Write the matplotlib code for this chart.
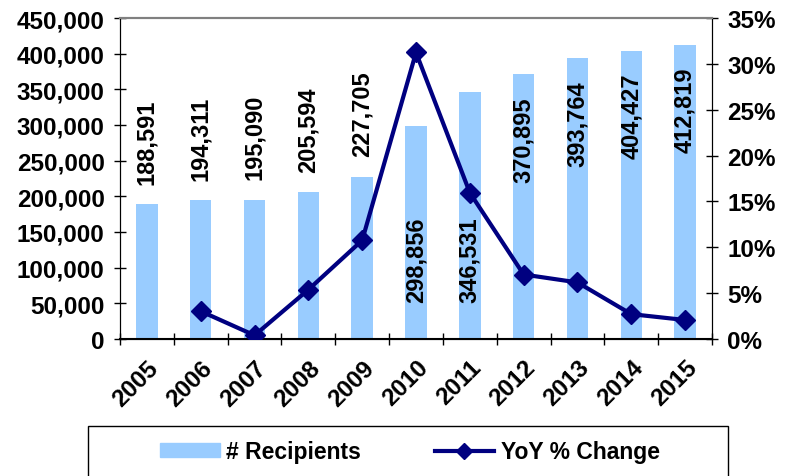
import matplotlib
matplotlib.use("Agg")
import matplotlib.pyplot as plt
from matplotlib.patches import Rectangle
from matplotlib.lines import Line2D
import matplotlib.ticker as mticker
import numpy as np

years = ["2005", "2006", "2007", "2008", "2009", "2010",
         "2011", "2012", "2013", "2014", "2015"]
recipients = [188591, 194311, 195090, 205594, 227705, 298856,
              346531, 370895, 393764, 404427, 412819]
yoy_years = ["2006", "2007", "2008", "2009", "2010",
             "2011", "2012", "2013", "2014", "2015"]
yoy_pct = [3.03, 0.40, 5.38, 10.76, 31.24, 15.95, 7.03, 6.17, 2.71, 2.07]

BAR = "#99CCFF"
NAVY = "#000080"

plt.rcParams.update({
    "font.family": ["Liberation Sans", "DejaVu Sans"],
    "font.weight": "bold",
    "font.size": 17.5,
})

fig = plt.figure(figsize=(7.96, 4.77), dpi=100)
ax = fig.add_axes([120/796, 1-340/477, 592/796, 321/477])
ax2 = ax.twinx()

x = np.arange(len(years))
bars = ax.bar(x, recipients, 0.4, color=BAR, label="# Recipients", zorder=2)

# value labels: above short bars, low inside 2010/2011, near top inside the rest
for xi, v in zip(x, recipients):
    txt = f"{v:,}"
    if v < 250000:
        ax.annotate(txt, (xi, v), xytext=(0, 15), textcoords="offset points",
                    rotation=90, ha="center", va="bottom", fontsize=17, zorder=5)
    elif v < 350000:
        ax.text(xi, 52000, txt, rotation=90, ha="center", va="bottom",
                fontsize=17, zorder=5)
    else:
        ax.annotate(txt, (xi, v), xytext=(0, -16), textcoords="offset points",
                    rotation=90, ha="center", va="top", fontsize=17, zorder=5)

xl = [years.index(y) for y in yoy_years]
ax2.plot(xl, yoy_pct, "-D", color=NAVY, lw=3, ms=10, zorder=4)

ax.set_xlim(-0.5, len(years) - 0.5)
ax.set_ylim(0, 450000)
ax.set_yticks(np.arange(0, 450001, 50000))
ax.yaxis.set_major_formatter(mticker.FuncFormatter(lambda v, p: f"{int(v):,}"))
ax2.set_ylim(0, 35)
ax2.set_yticks(np.arange(0, 36, 5))
ax2.yaxis.set_major_formatter(mticker.FuncFormatter(lambda v, p: f"{int(v)}%"))

ax.set_xticks(x)
ax.set_xticklabels(years, rotation=45, ha="right", va="top", rotation_mode="anchor")
ax.set_xticks(np.arange(-0.5, len(years)), minor=True)
ax.tick_params(axis="x", which="major", length=0, pad=12)
ax.tick_params(axis="x", which="minor", direction="inout", length=8, width=1)
ax.tick_params(axis="y", direction="inout", length=8, width=1, pad=7)
ax2.tick_params(axis="y", direction="inout", length=8, width=1, pad=7)

for a in (ax, ax2):
    a.spines["top"].set_color("#808080")
    a.spines["top"].set_linewidth(1.5)
ax.spines["bottom"].set_linewidth(1.5)

# legend box runs past the bottom edge
fig.patches.append(Rectangle((88/796, -0.2), 640/796, 0.2 + 50/477,
                             transform=fig.transFigure, fill=False,
                             ec="black", lw=1))
handles = [Rectangle((0, 0), 1, 1, color=BAR),
           Line2D([], [], color=NAVY, lw=3, marker="D", ms=8)]
fig.legend(handles, ["# Recipients", "YoY % Change"], ncol=2, frameon=False,
           loc="center", bbox_to_anchor=(410/796, 1-453/477), fontsize=16.5,
           handlelength=2.6, handleheight=0.55, columnspacing=3.2,
           handletextpad=0.3)

fig.savefig("out.png", dpi=100)
